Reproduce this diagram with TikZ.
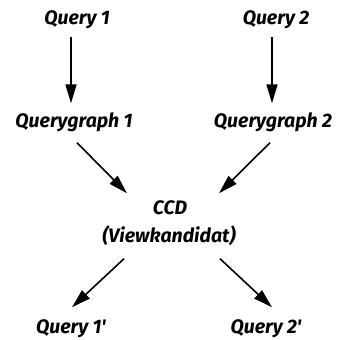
\documentclass[tikz,border=0pt]{standalone}
\usepackage{fontspec}
\setmainfont{Fira Sans}
\usetikzlibrary{arrows.meta,calc}
\begin{document}
\begin{tikzpicture}[x=1pt,y=-1pt,
  lbl/.style={inner sep=0pt,text height=13pt,text depth=4pt,font=\fontsize{19.5}{22}\selectfont\bfseries\itshape},
  arr/.style={line width=1.6pt,-{Triangle[length=19pt,width=11pt]}}]
\useasboundingbox (0,0) rectangle (343,340);
\node[lbl] (q1) at (77,20) {Query 1};
\node[lbl] (q2) at (276,20) {Query 2};
\node[lbl] (qg1) at (74,123) {Querygraph 1};
\node[lbl] (qg2) at (273,123) {Querygraph 2};
\node[lbl] (ccd) at (170,210) {CCD};
\node[lbl] (vk) at (169,238) {(Viewkandidat)};
\node[lbl] (q1p) at (71,329) {Query 1\textquotesingle};
\node[lbl] (q2p) at (266,329) {Query 2\textquotesingle};
\draw[arr] ($(q1.south)+(-6,8)$) -- ($(qg1.north)+(-3,-11)$);
\draw[arr] ($(q2.south)+(-4,8)$) -- ($(qg2.north)+(-1,-11)$);
\draw[arr] ($(qg1.south)+(3,11)$) -- ($(ccd.north)+(-43,-8)$);
\draw[arr] ($(qg2.south)+(-3,11)$) -- ($(ccd.north)+(49,-8)$);
\draw[arr] ($(vk.south)+(-45,12)$) -- ($(q1p.north)+(1,-13)$);
\draw[arr] ($(vk.south)+(51,12)$) -- ($(q2p.north)+(6,-13)$);
\end{tikzpicture}
\end{document}
